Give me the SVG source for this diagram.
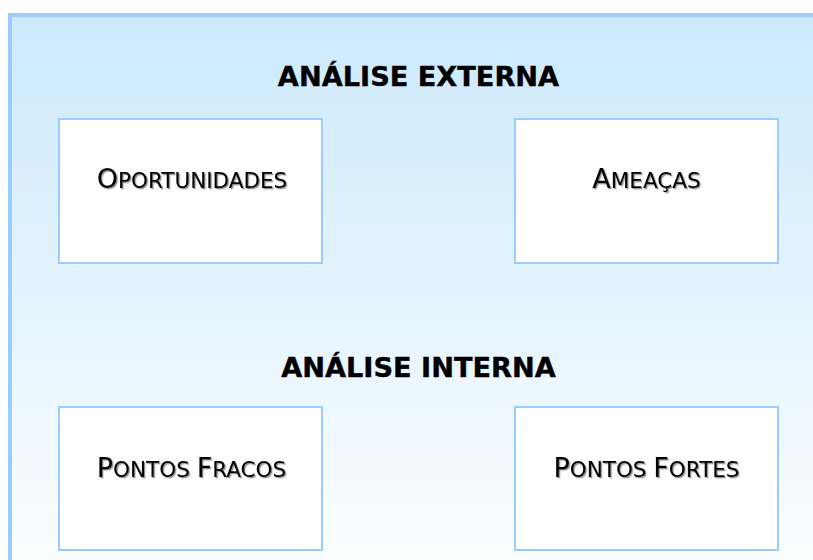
<svg xmlns="http://www.w3.org/2000/svg" width="813" height="560" viewBox="0 0 813 560">
  <defs>
    <linearGradient id="bg" x1="0" y1="0" x2="0" y2="1">
      <stop offset="0" stop-color="#CCE9FC"/>
      <stop offset="1" stop-color="#FCFEFF"/>
    </linearGradient>
    <filter id="shadow" x="-5%" y="-20%" width="110%" height="140%">
      <feDropShadow dx="1.3" dy="1.3" stdDeviation="0.6" flood-color="#000000" flood-opacity="0.45"/>
    </filter>
  </defs>
  <style>
    .frame { fill: url(#bg); stroke: #99CCFF; stroke-width: 4; }
    .box { fill: #FFFFFF; stroke: #99CCFF; stroke-width: 2; }
    .head { font-family: "DejaVu Sans", Verdana, sans-serif; font-weight: bold; font-size: 27.2px; fill: #000000; stroke: #000000; stroke-width: 0.4; text-anchor: middle; }
    .lbl { font-family: "DejaVu Sans", Verdana, sans-serif; font-size: 21.5px; fill: #000000; text-anchor: middle; filter: url(#shadow); }
    .big { font-size: 27px; }
  </style>
  <rect class="frame" x="10" y="15" width="820" height="560"/>
  <text class="head" x="418.5" y="86">ANÁLISE EXTERNA</text>
  <text class="head" x="418.5" y="377">ANÁLISE INTERNA</text>
  <g id="oportunidades">
    <rect class="box" x="59" y="119" width="263" height="144"/>
    <text class="lbl" x="192" y="188"><tspan class="big">O</tspan>PORTUNIDADES</text>
  </g>
  <g id="ameacas">
    <rect class="box" x="515" y="119" width="263" height="144"/>
    <text class="lbl" x="646.5" y="188"><tspan class="big">A</tspan>MEAÇAS</text>
  </g>
  <g id="pontos-fracos">
    <rect class="box" x="59" y="407" width="263" height="143"/>
    <text class="lbl" x="191.5" y="477"><tspan class="big">P</tspan>ONTOS <tspan class="big">F</tspan>RACOS</text>
  </g>
  <g id="pontos-fortes">
    <rect class="box" x="515" y="407" width="263" height="143"/>
    <text class="lbl" x="646.5" y="477"><tspan class="big">P</tspan>ONTOS <tspan class="big">F</tspan>ORTES</text>
  </g>
  <g id="connectors"></g>
</svg>
